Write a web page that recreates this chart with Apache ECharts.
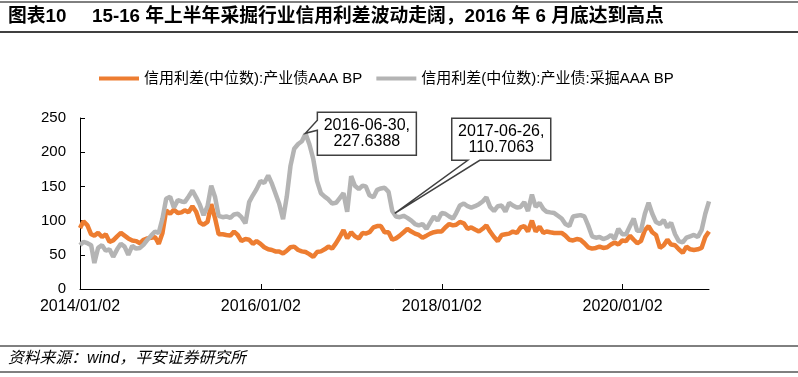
<!DOCTYPE html>
<html>
<head>
<meta charset="utf-8">
<script src="https://cdn.jsdelivr.net/npm/echarts@6/dist/echarts.min.js"></script>
<style>
  html, body { margin: 0; padding: 0; background: #fff; }
  #chart { width: 798px; height: 377px; }
</style>
</head>
<body>
<div id="chart"></div>
<script>
  // 半月一个点：每月 1 日、16 日（首点 2014-01-02）
  const startYear = 2014
  const monthCount = 84
  const dates = []
  for (let m = 0; m < monthCount; m++) {
    const y = startYear + Math.floor(m / 12)
    const mo = String(m % 12 + 1).padStart(2, '0')
    dates.push(`${y}-${mo}-${m === 0 ? '02' : '01'}`)
    dates.push(`${y}-${mo}-16`)
  }

  // 信用利差(中位数):产业债AAA BP
  const industryAAA = [
    89, 99, 93, 80, 78, 82, 76, 80, 69, 71, 77, 82, 78, 74, 71, 70, 67, 72, 74, 75, 76, 66, 82, 115,
    110, 116, 111, 112, 115, 112, 121, 113, 97, 94, 98, 124, 104, 80, 80, 79, 78, 84, 79, 70, 73, 72, 66, 70,
    66, 61, 58, 57, 55, 55, 52, 56, 61, 62, 57, 55, 54, 51, 47, 54, 55, 58, 62, 59, 67, 76, 86, 74,
    83, 77, 74, 82, 81, 83, 90, 92, 92, 83, 83, 72, 74, 78, 83, 88, 84, 81, 79, 75, 78, 81, 83, 84,
    84, 90, 95, 93, 94, 98, 96, 88, 90, 87, 84, 88, 93, 84, 76, 70, 79, 80, 81, 84, 82, 90, 92, 84,
    100, 84, 91, 82, 84, 83, 82, 82, 82, 78, 72, 71, 73, 72, 67, 61, 59, 60, 62, 60, 61, 65, 68, 65,
    71, 70, 78, 72, 67, 70, 86, 92, 83, 79, 60, 64, 72, 65, 64, 58, 53, 62, 58, 57, 58, 60, 76, 84
  ]
  // 信用利差(中位数):产业债:采掘AAA BP
  const miningAAA = [
    64, 69, 67, 64, 38, 60, 64, 56, 58, 47, 58, 66, 62, 50, 63, 59, 60, 65, 72, 78, 84, 82, 103, 132,
    135, 119, 130, 128, 127, 135, 144, 134, 123, 108, 121, 151, 135, 107, 105, 106, 104, 109, 110, 105, 96, 127, 137, 146,
    158, 155, 166, 154, 140, 125, 102, 135, 180, 205, 212, 216, 227, 212, 190, 158, 140, 135, 131, 125, 126, 133, 140, 113,
    165, 151, 146, 151, 150, 137, 134, 145, 147, 148, 142, 114, 106, 105, 107, 104, 100, 95, 93, 95, 88, 97, 106, 100,
    111, 110, 106, 103, 111, 122, 125, 121, 119, 121, 124, 128, 134, 120, 114, 121, 122, 113, 126, 122, 119, 120, 127, 114,
    138, 120, 126, 117, 113, 112, 111, 107, 103, 95, 92, 106, 107, 108, 106, 93, 77, 75, 76, 73, 75, 79, 73, 88,
    80, 80, 92, 103, 85, 85, 110, 126, 110, 98, 95, 101, 90, 97, 80, 70, 68, 75, 77, 79, 76, 86, 110, 128
  ]

  const xLabels = ['2014-01-02', '2016-01-02', '2018-01-02', '2020-01-02']
  const yMin = 0, yMax = 250, yStep = 50
  const notes = [
    { date: '2016-06-30', value: 227.6388 },
    { date: '2017-06-26', value: 110.7063 }
  ]
  const seriesNames = ['信用利差(中位数):产业债AAA BP', '信用利差(中位数):产业债:采掘AAA BP']

  const toTime = s => {
    const p = s.split('-').map(Number)
    return new Date(p[0], p[1] - 1, p[2]).getTime()
  }
  const fmt = v => {
    const d = new Date(v)
    return d.getFullYear() + '/' + String(d.getMonth() + 1).padStart(2, '0') + '/' + String(d.getDate()).padStart(2, '0')
  }

  const font = "'Liberation Sans', 'Noto Sans CJK SC', sans-serif"
  const chart = echarts.init(document.getElementById('chart'))

  const option = {
    animation: false,
    backgroundColor: '#fff',
    grid: { left: 80, right: 89, top: 118, bottom: 88 },
    legend: {
      left: 99,
      top: 71,
      padding: 0,
      icon: 'rect',
      itemWidth: 40,
      itemHeight: 4,
      itemGap: 14,
      textStyle: { fontSize: 15, color: '#000', fontFamily: font },
      data: seriesNames
    },
    xAxis: {
      type: 'value',
      min: toTime(dates[0]),
      max: toTime(dates[dates.length - 1]),
      axisLine: { lineStyle: { color: '#000', width: 1 } },
      axisTick: {
        inside: true, length: 5, lineStyle: { color: '#000' },
        customValues: xLabels.map(toTime)
      },
      axisLabel: {
        fontSize: 16, color: '#000', fontFamily: font, margin: 10,
        customValues: xLabels.map(toTime),
        formatter: v => fmt(v)
      },
      splitLine: { show: false }
    },
    yAxis: {
      type: 'value',
      min: yMin, max: yMax, interval: yStep,
      axisLine: { show: true, lineStyle: { color: '#000', width: 1 } },
      axisTick: { show: true, inside: true, length: 5, lineStyle: { color: '#000' } },
      axisLabel: { fontSize: 15, color: '#000', fontFamily: font, margin: 14 },
      splitLine: { show: false }
    },
    series: [
      {
        name: seriesNames[0],
        type: 'line',
        showSymbol: false,
        color: '#ED7D31',
        lineStyle: { width: 4.5, color: '#ED7D31' },
        data: dates.map((d, i) => [toTime(d), industryAAA[i]])
      },
      {
        name: seriesNames[1],
        type: 'line',
        showSymbol: false,
        color: '#B4B4B4',
        lineStyle: { width: 4.5, color: '#B4B4B4' },
        data: dates.map((d, i) => [toTime(d), miningAAA[i]])
      }
    ]
  }
  chart.setOption(option)

  // 标注框
  const callout = (tip, box, base, label) => {
    const [bx, by, bw, bh] = box
    let pts
    if (base.side === 'left') {
      pts = [[bx, by], [bx + bw, by], [bx + bw, by + bh], [bx, by + bh], [bx, base.b], tip, [bx, base.a]]
    } else {
      pts = [[bx, by], [bx + bw, by], [bx + bw, by + bh], [base.b, by + bh], tip, [base.a, by + bh], [bx, by + bh]]
    }
    return [
      { type: 'polygon', shape: { points: pts }, style: { fill: '#fff', stroke: '#404040', lineWidth: 1.5 }, z: 10 },
      {
        type: 'text', x: bx + bw / 2, y: by + bh / 2, z: 11,
        style: { text: label, fill: '#000', font: '16px ' + font, align: 'center', verticalAlign: 'middle', lineHeight: 16 }
      }
    ]
  }
  const t1 = chart.convertToPixel({ gridIndex: 0 }, [toTime(notes[0].date), notes[0].value])
  const t2 = chart.convertToPixel({ gridIndex: 0 }, [toTime(notes[1].date), notes[1].value])
  const label = n => n.date + ',\n' + n.value.toFixed(4)

  chart.setOption({
    graphic: [
      { type: 'line', shape: { x1: 0, y1: 2, x2: 798, y2: 2 }, style: { stroke: '#000', lineWidth: 1 } },
      { type: 'line', shape: { x1: 0, y1: 32, x2: 798, y2: 32 }, style: { stroke: '#000', lineWidth: 1.5 } },
      { type: 'text', x: 8, y: 17, style: { text: '图表10', fill: '#000', font: 'bold 18.8px ' + font, verticalAlign: 'middle' } },
      { type: 'text', x: 92, y: 17, style: { text: '15-16 年上半年采掘行业信用利差波动走阔，2016 年 6 月底达到高点', fill: '#000', font: 'bold 18.8px ' + font, verticalAlign: 'middle' } },
      { type: 'line', shape: { x1: 0, y1: 346, x2: 798, y2: 346 }, style: { stroke: '#000', lineWidth: 1 } },
      { type: 'line', shape: { x1: 0, y1: 372, x2: 798, y2: 372 }, style: { stroke: '#000', lineWidth: 1 } },
      { type: 'text', x: 8, y: 359, style: { text: '资料来源：wind，平安证券研究所', fill: '#000', font: 'italic 15.8px ' + font, verticalAlign: 'middle' } },
      ...callout(t1, [t1[0] + 12, t1[1] - 21, 99, 43], { side: 'left', a: t1[1] - 13, b: t1[1] - 3 }, label(notes[0])),
      ...callout(t2, [t2[0] + 57, t2[1] - 95, 99, 42], { side: 'bottom', a: t2[0] + 73, b: t2[0] + 85 }, label(notes[1]))
    ]
  })
</script>
</body>
</html>
